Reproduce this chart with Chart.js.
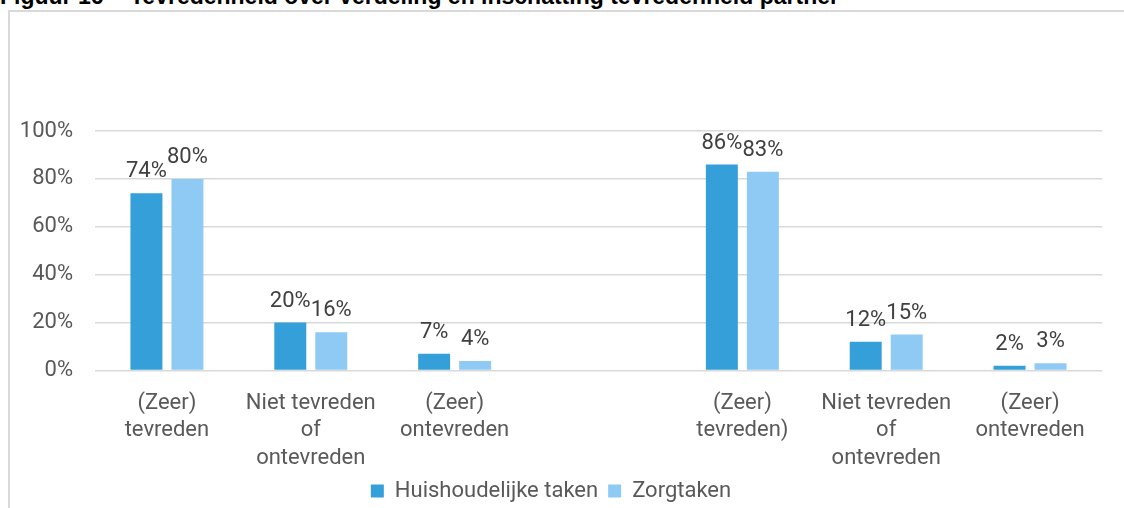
<!DOCTYPE html>
<html>
<head>
<meta charset="utf-8">
<script src="https://cdn.jsdelivr.net/npm/chart.js@4"></script>
<style>
  html, body { margin: 0; padding: 0; background: #fff; }
  body { width: 1124px; height: 508px; position: relative; overflow: hidden; }
  .title { position: absolute; top: -15px; font: bold 23px "Liberation Sans", Arial, sans-serif; line-height: 23px; color: #000; white-space: nowrap; }
  .frame { position: absolute; left: 8px; top: 10px; width: 1130px; height: 510px; border-top: 2px solid #d9d9d9; border-left: 2px solid #d9d9d9; }
  #chart { position: absolute; left: 0; top: 0; }
</style>
</head>
<body>
<div class="title" style="left:0">Figuur 16</div>
<div class="title" style="left:130px">Tevredenheid over verdeling en inschatting tevredenheid partner</div>
<div class="frame"></div>
<canvas id="chart" width="1124" height="508"></canvas>
<script>
const categories = [
  ['(Zeer)', 'tevreden'],
  ['Niet tevreden', 'of', 'ontevreden'],
  ['(Zeer)', 'ontevreden'],
  '',
  ['(Zeer)', 'tevreden)'],
  ['Niet tevreden', 'of', 'ontevreden'],
  ['(Zeer)', 'ontevreden']
];
const huishoudelijk = [74, 20, 7, null, 86, 12, 2];
const zorgtaken = [80, 16, 4, null, 83, 15, 3];
const yTicks = [0, 20, 40, 60, 80, 100];

const textColor = '#595959';
const fontFamily = 'Roboto, "Noto Sans", sans-serif';

// values above the bars
const valueLabels = {
  id: 'valueLabels',
  afterDatasetsDraw(chart) {
    const ctx = chart.ctx;
    ctx.save();
    ctx.font = '22px ' + fontFamily;
    ctx.fillStyle = '#404040';
    ctx.textAlign = 'center';
    ctx.textBaseline = 'alphabetic';
    chart.data.datasets.forEach((ds, i) => {
      chart.getDatasetMeta(i).data.forEach((bar, j) => {
        const v = ds.data[j];
        if (v == null) return;
        ctx.fillText(v + '%', bar.x, bar.y - 16);
      });
    });
    ctx.restore();
  }
};

new Chart(document.getElementById('chart'), {
  type: 'bar',
  data: {
    labels: categories,
    datasets: [
      { label: 'Huishoudelijke taken', data: huishoudelijk, backgroundColor: '#359fda',
        categoryPercentage: 0.57, barPercentage: 0.78 },
      { label: 'Zorgtaken', data: zorgtaken, backgroundColor: '#8fcaf5',
        categoryPercentage: 0.57, barPercentage: 0.78 }
    ]
  },
  options: {
    responsive: false,
    animation: false,
    layout: { padding: { top: 131, right: 22, bottom: -4, left: 0 } },
    scales: {
      x: {
        grid: { display: false },
        border: { display: false },
        afterFit: axis => { axis.height -= 13; },
        ticks: { color: textColor, font: { family: fontFamily, size: 22, lineHeight: 1.25 }, padding: 11, maxRotation: 0, autoSkip: false }
      },
      y: {
        min: 0,
        max: 100,
        afterBuildTicks: axis => { axis.ticks = yTicks.map(v => ({ value: v })); },
        afterFit: axis => { axis.width = 95; },
        grid: { color: '#d9d9d9', lineWidth: 1.5, drawTicks: false },
        border: { display: false },
        ticks: { color: textColor, font: { family: fontFamily, size: 22 }, padding: 22, callback: v => v + '%' }
      }
    },
    plugins: {
      legend: {
        position: 'bottom',
        labels: { color: textColor, font: { family: fontFamily, size: 22 }, boxWidth: 13, boxHeight: 13, padding: 10 }
      },
      tooltip: { enabled: false }
    }
  },
  plugins: [valueLabels]
});
</script>
</body>
</html>
